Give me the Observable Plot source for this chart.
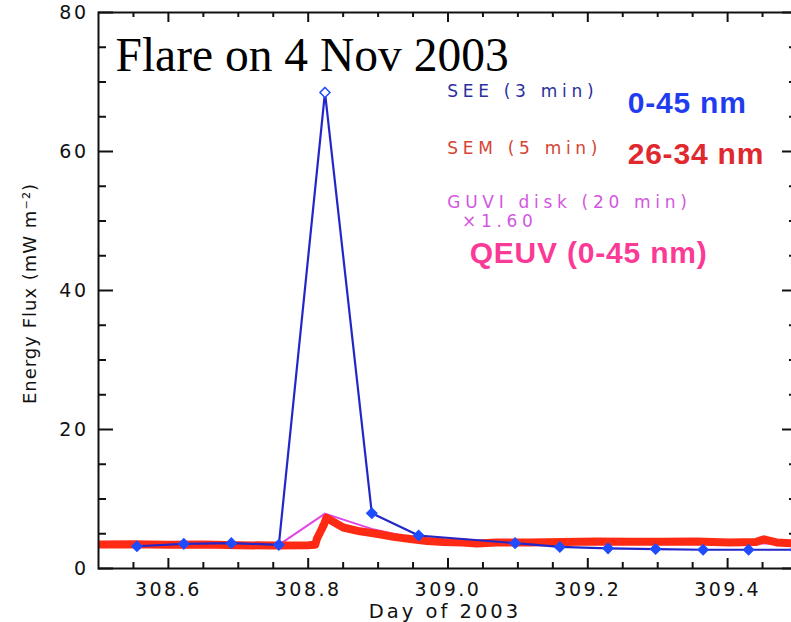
<!DOCTYPE html>
<html><head><meta charset="utf-8">
<script src="https://cdn.jsdelivr.net/npm/d3@7"></script>
<script src="https://cdn.jsdelivr.net/npm/@observablehq/plot@0.6"></script>
<style>
html,body{margin:0;padding:0;background:#fff;overflow:hidden}
</style></head><body><div id="chart"></div>
<script>
// SEE (3 min), 0-45 nm
const seeDay = [308.555, 308.622, 308.690, 308.758, 308.824, 308.891, 308.958, 309.096, 309.160, 309.229, 309.297, 309.365, 309.430, 309.497];
const seeVal = [3.2, 3.55, 3.65, 3.4, 68.5, 7.95, 4.75, 3.65, 3.1, 2.9, 2.8, 2.7, 2.7, 2.7];
// SEM (5 min), 26-34 nm
const semDay = [308.500, 308.550, 308.600, 308.650, 308.700, 308.750, 308.800, 308.810, 308.8125, 308.8155, 308.8185, 308.822, 308.826, 308.850, 308.874, 308.898, 308.922, 308.946, 308.970, 308.993, 309.021, 309.041, 309.070, 309.117, 309.164, 309.212, 309.260, 309.308, 309.355, 309.403, 309.440, 309.452, 309.470, 309.500];
const semVal = [3.45, 3.5, 3.4, 3.45, 3.35, 3.3, 3.35, 3.4, 4.3, 4.9, 5.5, 6.2, 7.3, 5.9, 5.35, 5.0, 4.55, 4.25, 3.95, 3.8, 3.75, 3.6, 3.75, 3.75, 3.8, 3.9, 3.85, 3.85, 3.9, 3.75, 3.8, 4.2, 3.75, 3.6];
// SEM rise hash marks
const semHashDay = [308.8125, 308.8155, 308.8185, 308.8215];
const semHashVal = [4.3, 4.9, 5.5, 6.2];
// GUVI disk (20 min) x1.60
const guviDay = [308.555, 308.622, 308.690, 308.758, 308.824, 308.891, 308.958, 309.026, 309.096, 309.160, 309.229, 309.297, 309.365, 309.430, 309.497];
const guviVal = [3.3, 3.5, 3.5, 3.4, 7.9, 5.7, 4.2, 3.8, 3.7, 3.6, 3.7, 3.7, 3.7, 3.6, 3.6];

const xMajorTicks = [308.6, 308.8, 309.0, 309.2, 309.4];
const xMinorTicks = [308.55, 308.65, 308.7, 308.75, 308.85, 308.9, 308.95, 309.05, 309.1, 309.15, 309.25, 309.3, 309.35, 309.45];
const yMajorTicks = [0, 20, 40, 60, 80];
const yMinorTicks = [5, 10, 15, 25, 30, 35, 45, 50, 55, 65, 70, 75];

const see = seeDay.map((d, i) => ({day: d, val: seeVal[i]}));
const sem = semDay.map((d, i) => ({day: d, val: semVal[i]}));
const semHash = semHashDay.map((d, i) => ({day: d, val: semHashVal[i]}));
const guvi = guviDay.map((d, i) => ({day: d, val: guviVal[i]}));

const hashSymbol = {draw(ctx, size) { const w = Math.sqrt(size) * 0.56; ctx.moveTo(-w, 0); ctx.lineTo(w, 0); }};

const seeLine = "#2326c8", seeDot = "#1f4cff", semColor = "#ff2a14", guviColor = "#e245e6";
const axisColor = "#111";
const sans = "DejaVu Sans";

// frame geometry (pixels) used to turn inward tick lengths into scale units
const W = 791, H = 622, mL = 98, mR = -6, mT = 12, mB = 54;
const xDom = [308.5, 309.5], yDom = [0, 80];
const pxX = (xDom[1] - xDom[0]) / (W - mL - mR);   // days per pixel
const pxY = (yDom[1] - yDom[0]) / (H - mT - mB);   // units per pixel

const chart = Plot.plot({
  width: W,
  height: H,
  marginLeft: mL,
  marginRight: mR,
  marginTop: mT,
  marginBottom: mB,
  style: {background: "white", color: axisColor, overflow: "visible", fontFamily: sans},
  x: {domain: xDom},
  y: {domain: yDom},
  marks: [
    // data
    Plot.line(guvi, {x: "day", y: "val", stroke: guviColor, strokeWidth: 2, clip: true}),
    Plot.line(sem, {x: "day", y: "val", stroke: semColor, strokeWidth: 8, strokeLinejoin: "round", strokeLinecap: "round", clip: true}),
    Plot.dot(semHash, {x: "day", y: "val", symbol: hashSymbol, r: 4, stroke: semColor, strokeWidth: 2}),
    Plot.line(see, {x: "day", y: "val", stroke: seeLine, strokeWidth: 2.2, clip: true}),
    Plot.dot(see, {x: "day", y: "val", symbol: "diamond2", r: 4.5, stroke: seeDot, strokeWidth: 1.5, fill: d => d.val > 50 ? "white" : seeDot}),
    // frame & inward ticks
    Plot.frame({stroke: axisColor, strokeWidth: 2}),
    Plot.ruleX(xMajorTicks, {x: d => d, y1: yDom[0], y2: yDom[0] + 10 * pxY, stroke: axisColor, strokeWidth: 2}),
    Plot.ruleX(xMinorTicks, {x: d => d, y1: yDom[0], y2: yDom[0] + 6 * pxY, stroke: axisColor, strokeWidth: 2}),
    Plot.ruleX(xMajorTicks, {x: d => d, y1: yDom[1], y2: yDom[1] - 10 * pxY, stroke: axisColor, strokeWidth: 2}),
    Plot.ruleX(xMinorTicks, {x: d => d, y1: yDom[1], y2: yDom[1] - 5 * pxY, stroke: axisColor, strokeWidth: 2}),
    Plot.ruleY(yMajorTicks, {y: d => d, x1: xDom[0], x2: xDom[0] + 15 * pxX, stroke: axisColor, strokeWidth: 2}),
    Plot.ruleY(yMinorTicks, {y: d => d, x1: xDom[0], x2: xDom[0] + 8 * pxX, stroke: axisColor, strokeWidth: 2}),
    Plot.ruleY(yMajorTicks, {y: d => d, x1: xDom[1], x2: xDom[1] - 15 * pxX, stroke: axisColor, strokeWidth: 2}),
    Plot.ruleY(yMinorTicks, {y: d => d, x1: xDom[1], x2: xDom[1] - 8 * pxX, stroke: axisColor, strokeWidth: 2}),
    // tick labels
    Plot.axisX(xMajorTicks, {anchor: "bottom", tickSize: 0, tickPadding: 14, fontSize: 19, tickFormat: d3.format(".1f"), label: null}),
    Plot.axisY(yMajorTicks, {anchor: "left", tickSize: 0, tickPadding: 10, fontSize: 19, label: null}),
    // axis titles
    Plot.text(["Day of 2003"], {frameAnchor: "bottom", textAnchor: "middle", dx: -3, dy: 49, lineAnchor: "bottom", fontSize: 19.5, fill: axisColor}),
    Plot.text(["Energy Flux (mW m⁻²)"], {frameAnchor: "left", textAnchor: "middle", dx: -68, dy: 3, rotate: -90, lineAnchor: "middle", fontSize: 18, fill: axisColor}),
    // annotations
    Plot.text(["Flare on 4 Nov 2003"], {x: 308.5243, y: 71.65, textAnchor: "start", lineAnchor: "bottom", fontFamily: "Liberation Serif", fontSize: 47.5, fill: "#000"}),
    Plot.text(["SEE (3 min)"], {x: 308.999, y: 67.77, textAnchor: "start", lineAnchor: "bottom", fontSize: 17, fill: "#2b2f9c"}),
    Plot.text(["SEM (5 min)"], {x: 308.999, y: 59.71, textAnchor: "start", lineAnchor: "bottom", fontSize: 17, fill: "#d44434"}),
    Plot.text(["GUVI disk (20 min)"], {x: 308.999, y: 51.8, textAnchor: "start", lineAnchor: "bottom", fontSize: 17, fill: "#d257e0"}),
    Plot.text(["×1.60"], {x: 309.020, y: 49.2, textAnchor: "start", lineAnchor: "bottom", fontSize: 17, fill: "#d257e0"}),
    Plot.text(["0-45 nm"], {x: 309.257, y: 65.6, textAnchor: "start", lineAnchor: "bottom", fontFamily: "Liberation Sans", fontWeight: "bold", fontSize: 30, fill: "#1f3cf0"}),
    Plot.text(["26-34 nm"], {x: 309.257, y: 58.27, textAnchor: "start", lineAnchor: "bottom", fontFamily: "Liberation Sans", fontWeight: "bold", fontSize: 30, fill: "#e0282f"}),
    Plot.text(["QEUV (0-45 nm)"], {x: 309.031, y: 43.9, textAnchor: "start", lineAnchor: "bottom", fontFamily: "Liberation Sans", fontWeight: "bold", fontSize: 30, fill: "#fb3a97"})
  ]
});
// letter spacing to mimic the wide plotting font of the original
const spacingFor = t => {
  if (/^[\d.]+$/.test(t)) return 2.5;
  if (t === "Day of 2003") return 3;
  if (t.startsWith("Energy")) return 1;
  if (/min\)$|^×/.test(t)) return 4.7;
  if (/nm/.test(t)) return 0.8;
  return 0;
};
d3.select(chart).selectAll("text").each(function() {
  const s = spacingFor(this.textContent.trim());
  if (s) this.style.letterSpacing = s + "px";
});
document.getElementById("chart").appendChild(chart);
</script></body></html>
